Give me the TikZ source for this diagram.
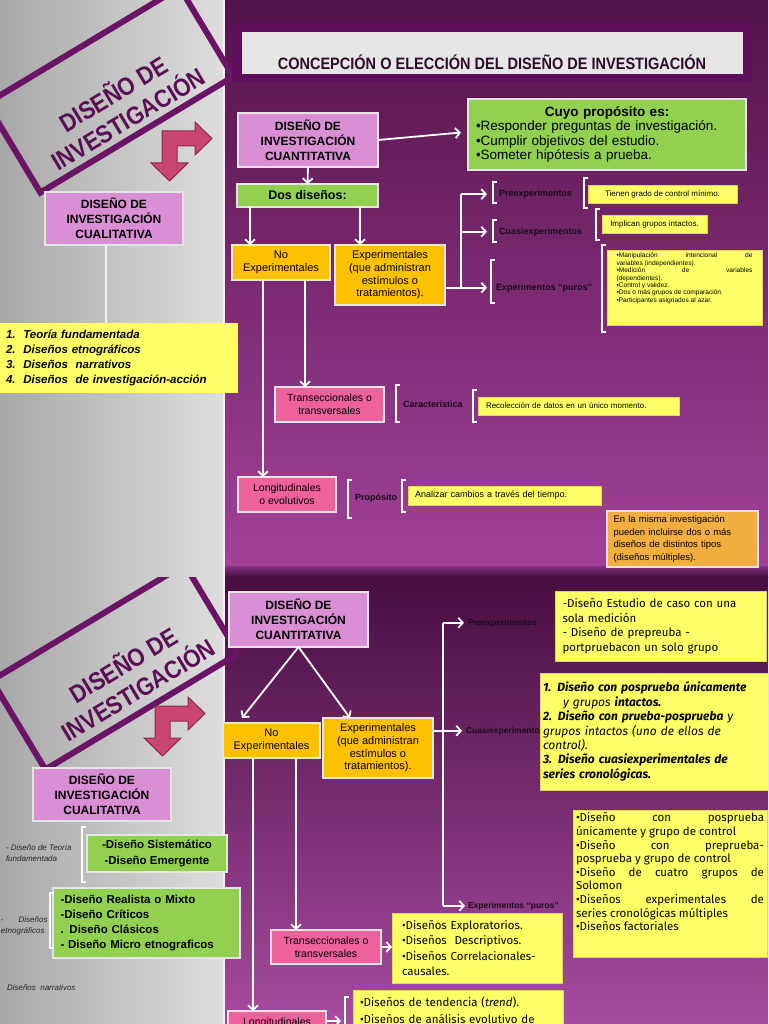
\documentclass[tikz,border=0pt]{standalone}
\usepackage{fontspec}
\setmainfont{Liberation Sans}
\newfontfamily\condf[FakeStretch=0.88]{Liberation Sans}
\newfontfamily\firaf{Fira Sans}
\usetikzlibrary{arrows.meta}
\definecolor{gdark}{HTML}{A8A8A8}
\definecolor{glight}{HTML}{DEDEDE}
\definecolor{ptop}{HTML}{531249}
\definecolor{pbot}{HTML}{A2429A}
\definecolor{pband}{HTML}{470E41}
\definecolor{framec}{HTML}{6A1466}
\definecolor{tiltc}{HTML}{5A0E54}
\definecolor{arrf}{HTML}{C8466F}
\definecolor{arrd}{HTML}{8C2A4D}
\definecolor{pinkq}{HTML}{DA8FD4}
\definecolor{greenc}{HTML}{92D050}
\definecolor{yellowc}{HTML}{FFFF66}
\definecolor{goldc}{HTML}{FFC000}
\definecolor{hotpink}{HTML}{F0629C}
\definecolor{orangec}{HTML}{F3AE40}
\definecolor{bordc}{HTML}{E4E4E4}
\definecolor{tframec}{HTML}{5E0F5C}
\definecolor{tgray}{HTML}{E6E6E6}
\definecolor{ttext}{HTML}{2E0A2B}
\definecolor{lblc}{HTML}{1C0A1A}
\newcommand{\fs}[2]{\fontsize{#1}{#2}\selectfont}
\newcommand{\jl}[1]{\makebox[\hsize][s]{#1}}
\newcommand{\brk}[3]{\draw[brkline] (#1+4,#2) -- (#1,#2) -- (#1,#3) -- (#1+4,#3);}
\tikzset{
  every node/.style={inner sep=0pt, outer sep=0pt},
  box/.style={draw=bordc, line width=1.3pt, anchor=north west, align=center, text=black},
  ybox/.style={box, fill=yellowc, draw=yellowc!85!black, line width=0.6pt},
  wline/.style={draw=white, line width=1.8pt},
  warr/.style={wline, -{Straight Barb[length=4.5pt,width=10pt]}},
  lbl/.style={anchor=base west, font=\bfseries\fs{9}{10}, text=lblc},
  lbltwo/.style={anchor=base west, font=\bfseries\fs{8.5}{10}, text=lblc},
  brkline/.style={draw=white, line width=1.6pt},
  tiltframe/.style={draw=framec, line width=6pt, minimum width=225pt, minimum height=104pt, rotate=31},
  tilttext/.style={rotate=31, font=\condf\bfseries\fs{25}{29}, text=tiltc, align=center},
  bent/.style={fill=arrf, draw=arrd, line width=1pt},
  lefttxt/.style={anchor=north west, font=\itshape\fs{8}{11}, align=left, text=black!85}
}
\begin{document}
\begin{tikzpicture}[x=1pt,y=-1pt]
\useasboundingbox (0,0) rectangle (768,1024);
% ================= TOP SLIDE =================
\begin{scope}
\clip (0,0) rectangle (768,577);
\shade[left color=gdark, right color=glight] (0,0) rectangle (224,577);
\shade[top color=ptop, bottom color=pbot] (224,0) rectangle (768,566);
\shade[top color=pbot!70!pband, bottom color=pband] (224,566) rectangle (768,577);
\draw[draw=white!90!gray, line width=1.4pt] (224,0) -- (224,577);

\node[tiltframe] (tilt1) at (110,90) {};
\node[tilttext] (tilttxt1) at (120,105) {DISEÑO DE\\INVESTIGACIÓN};
\filldraw[bent] (162,131) -- (195,131) -- (195,122) -- (212,138.5) -- (195,155) -- (195,146) -- (177,146) -- (177,163) -- (188,163) -- (169.5,181) -- (151,163) -- (162,163) -- cycle;

\node[box, fill=pinkq, minimum width=138pt, minimum height=53pt, font=\bfseries\fs{12}{15}] (cual) at (45,192) {DISEÑO DE\\INVESTIGACIÓN\\CUALITATIVA};
\node[box, fill=yellowc, draw=none, minimum width=238pt, minimum height=70pt, text width=226pt, align=left, font=\bfseries\itshape\fs{11.5}{14.7}] (list1) at (0,323) {1.\ \ Teoría fundamentada\\2.\ \ Diseños etnográficos\\3.\ \ Diseños\ \ narrativos\\4.\ \ Diseños\ \ de investigación-acción};
\coordinate (cq) at ([xshift=-8pt]cual.south);
\draw[draw=white!92!gray, line width=1.5pt] (cq) -- (cq |- list1.north);

% title
\node[fill=tframec, minimum width=520pt, minimum height=59pt, anchor=north west] (titleframe) at (232,23) {};
\node[fill=tgray, minimum width=501pt, minimum height=42pt, anchor=north west] (titlebar) at (242,32) {};
\node[anchor=base, font=\condf\bfseries\fs{16.5}{18}, text=ttext] (title) at (492,70) {CONCEPCIÓN O ELECCIÓN DEL DISEÑO DE INVESTIGACIÓN};

% boxes
\node[box, fill=pinkq, minimum width=140pt, minimum height=54pt, font=\bfseries\fs{12}{15}] (quant) at (238,113) {DISEÑO DE\\INVESTIGACIÓN\\CUANTITATIVA};
\node[box, fill=greenc, minimum width=278pt, minimum height=71pt, text width=262pt, align=left, font=\fs{13.5}{14.5}] (cuyo) at (468,99) {\makebox[\hsize][c]{\bfseries Cuyo propósito es:}\\•Responder preguntas de investigación.\\•Cumplir objetivos del estudio.\\•Someter hipótesis a prueba.};
\node[box, fill=greenc, minimum width=141pt, minimum height=23pt, font=\bfseries\fs{12.5}{14}] (dos) at (237,184) {Dos diseños:};
\node[box, fill=goldc, minimum width=98pt, minimum height=35pt, font=\fs{11}{12.5}] (noexp) at (232,245) {No\\Experimentales};
\node[box, fill=goldc, minimum width=110pt, minimum height=60pt, font=\fs{11}{12.7}] (exp) at (335,245) {Experimentales\\(que administran\\estímulos o\\tratamientos).};

\node[lbl] (pre) at (499,196.5) {Preexperimentos};
\node[lbl] (cua) at (499,234) {Cuasiexperimentos};
\node[lbl] (pur) at (496,290) {Experimentos “puros”};

\node[ybox, minimum width=149pt, minimum height=18pt, font=\fs{8}{9}] (preY) at (588,185) {Tienen grado de control mínimo.};
\node[ybox, minimum width=105pt, minimum height=18pt, font=\fs{8}{9}] (cuaY) at (602,215) {Implican grupos intactos.};
\node[ybox, minimum width=155pt, minimum height=75pt, font=\fs{6.6}{7.4}] (purY) at (607,250) {\parbox[c][69pt][t]{136pt}{\jl{•Manipulación intencional de}\\variables (independientes).\\\jl{•Medición de variables}\\(dependientes).\\•Control y validez.\\•Dos o más grupos de comparación.\\•Participantes asignados al azar.}};

\node[box, fill=hotpink, line width=2pt, minimum width=109pt, minimum height=35pt, font=\fs{10.5}{13}] (trans) at (275,387) {Transeccionales o\\transversales};
\node[box, fill=hotpink, line width=2pt, minimum width=98pt, minimum height=35pt, font=\fs{10.5}{13}] (long) at (238,477) {Longitudinales\\o evolutivos};
\node[lbl] (car) at (403,407) {Característica};
\node[ybox, minimum width=201pt, minimum height=18pt, text width=185pt, align=left, font=\fs{8}{9}] (carY) at (478,397) {Recolección de datos en un único momento.};
\node[lbl] (prop) at (355,500) {Propósito};
\node[ybox, minimum width=193pt, minimum height=19pt, text width=179pt, align=left, font=\fs{9}{10}] (propY) at (408,486) {Analizar cambios a través del tiempo.};
\node[box, fill=orangec, minimum width=151pt, minimum height=56pt, text width=138pt, align=left, font=\fs{9.5}{12.7}] (multi) at (607,511) {\jl{En la misma investigación}\\\jl{pueden incluirse dos o más}\\\jl{diseños de distintos tipos}\\(diseños múltiples).};

% connectors
\draw[warr] (quant.east) -- ([xshift=-7pt,yshift=2pt]cuyo.west);
\draw[warr] (quant.south) -- (dos.north);
\coordinate (xa) at (250,0);
\coordinate (xb) at (360,0);
\draw[warr] (dos.south -| xa) -- (noexp.north -| xa);
\draw[warr] (dos.south -| xb) -- (exp.north -| xb);
\coordinate (fk) at (461,0);
\draw[wline] (fk |- pre.west) -- (fk |- pur.west);
\draw[wline] (exp.east |- pur.west) -- (fk |- pur.west);
\draw[warr] (fk |- pre.west) -- ([xshift=-12pt]pre.west);
\draw[warr] (fk |- cua.west) -- ([xshift=-12pt]cua.west);
\draw[warr] (fk |- pur.west) -- ([xshift=-9pt]pur.west);
\coordinate (xc) at (263,0);
\coordinate (xd) at (305,0);
\draw[warr] (noexp.south -| xc) -- (long.north -| xc);
\draw[warr] (noexp.south -| xd) -- (trans.north -| xd);

% brackets
\brk{493}{182}{203}
\brk{493}{220}{242}
\brk{491}{260}{303}
\brk{584}{178}{208}
\brk{596}{209}{240}
\brk{602}{245}{332}
\brk{396}{385}{422}
\brk{473}{390}{422}
\brk{348}{480}{518}
\brk{402}{480}{512}
\end{scope}

% ================= BOTTOM SLIDE =================
\begin{scope}
\clip (0,577) rectangle (768,1024);
\shade[left color=gdark, right color=glight] (0,577) rectangle (224,1024);
\shade[top color=pband, bottom color=pbot!95!white] (224,577) rectangle (768,1024);
\draw[draw=white!90!gray, line width=1.4pt] (224,577) -- (224,1024);

\node[tiltframe] (tilt2) at (115,667) {};
\node[tilttext] (tilttxt2) at (130,676) {DISEÑO DE\\INVESTIGACIÓN};
\begin{scope}[shift={(-7,575)}]
\filldraw[bent] (162,131) -- (195,131) -- (195,122) -- (212,138.5) -- (195,155) -- (195,146) -- (177,146) -- (177,163) -- (188,163) -- (169.5,181) -- (151,163) -- (162,163) -- cycle;
\end{scope}

\node[box, fill=pinkq, minimum width=138pt, minimum height=53pt, font=\bfseries\fs{12}{15}] (cual2) at (33,768) {DISEÑO DE\\INVESTIGACIÓN\\CUALITATIVA};
\node[lefttxt] (teo) at (6,845) {- Diseño de Teoría\\fundamentada};
\node[lefttxt] (etno) at (1,917) {-\hspace{15pt}Diseños\\etnográficos};
\node[anchor=base west, font=\itshape\fs{8}{10}, text=black!85] (narr) at (7,990) {Diseños\ \ narrativos};
\node[box, fill=greenc, minimum width=140pt, minimum height=37pt, font=\bfseries\fs{11.5}{16}] (sist) at (87,835) {-Diseño Sistemático\\-Diseño Emergente};
\node[box, fill=greenc, minimum width=187pt, minimum height=70pt, text width=172pt, align=left, font=\bfseries\fs{11.5}{15}] (real) at (53,888) {-Diseño Realista o Mixto\\-Diseño Críticos\\. Diseño Clásicos\\- Diseño Micro etnograficos};
\brk{82}{827}{882}
\brk{50}{893}{948}

\node[box, fill=pinkq, minimum width=139pt, minimum height=55pt, font=\bfseries\fs{12}{15}] (quant2) at (229,592) {DISEÑO DE\\INVESTIGACIÓN\\CUANTITATIVA};
\node[box, fill=goldc, minimum width=97pt, minimum height=35pt, font=\fs{11}{12.5}] (noexp2) at (223,723) {No\\Experimentales};
\node[box, fill=goldc, minimum width=110pt, minimum height=60pt, font=\fs{11}{12.7}] (exp2) at (323,718) {Experimentales\\(que administran\\estímulos o\\tratamientos).};

\node[lbltwo] (pre2) at (468,625) {Preexperimentos};
\node[lbltwo] (cua2) at (466,733) {Cuasiexperimentos};
\node[lbltwo] (pur2) at (468,908) {Experimentos “puros”};

\node[ybox, minimum width=211pt, minimum height=70pt, text width=196pt, align=left, font=\firaf\fs{11.5}{14.5}] (preY2) at (555,591) {-Diseño Estudio de caso con una\\sola medición\\- Diseño de prepreuba -\\portpruebacon un solo grupo};
\node[ybox, minimum width=228pt, minimum height=117pt, text width=222pt, align=left, font=\firaf\fs{12}{14.4}] (cuaY2) at (540,673) {{\bfseries\itshape 1. Diseño con posprueba únicamente}\\\hspace*{20pt}{\itshape y grupos {\bfseries intactos.}}\\{\bfseries\itshape 2. Diseño con prueba-posprueba}{\itshape\ y}\\{\itshape grupos intactos (uno de ellos de}\\{\itshape control).}\\{\bfseries\itshape 3. Diseño cuasiexperimentales de}\\{\bfseries\itshape series cronológicas.}};
\node[ybox, minimum width=194pt, minimum height=147pt, font=\firaf\fs{11.5}{13.6}] (purY2) at (573,810) {\parbox[c][141pt][t]{188pt}{\jl{•Diseño con posprueba}\\únicamente y grupo de control\\\jl{•Diseño con preprueba-}\\posprueba y grupo de control\\\jl{•Diseño de cuatro grupos de}\\Solomon\\\jl{•Diseños experimentales de}\\series cronológicas múltiples\\•Diseños factoriales}};

\node[box, fill=hotpink, line width=2pt, minimum width=110pt, minimum height=34pt, font=\fs{10.5}{13}] (trans2) at (271,930) {Transeccionales o\\transversales};
\node[ybox, minimum width=170pt, minimum height=70pt, text width=150pt, align=left, font=\firaf\fs{11.5}{15.2}] (tY2) at (392,913) {•Diseños Exploratorios.\\•Diseños\ \ Descriptivos.\\\jl{•Diseños Correlacionales-}\\causales.};
\node[box, fill=hotpink, line width=2pt, minimum width=98pt, minimum height=34pt, font=\fs{10.5}{13}] (long2) at (228,1011) {Longitudinales\\o evolutivos};
\node[ybox, minimum width=210pt, minimum height=40pt, text width=196pt, align=left, font=\firaf\fs{11.5}{17}] (lY2) at (353,990) {•Diseños de tendencia (\textit{trend}).\\•Diseños de análisis evolutivo de};
\brk{345}{997}{1045}

% connectors bottom
\draw[warr] (quant2.south) -- ([xshift=19pt,yshift=5pt]noexp2.north west);
\draw[warr] (quant2.south) -- ([xshift=-28pt]exp2.north);
\coordinate (fk2) at (443,0);
\draw[wline] (fk2 |- pre2.west) -- (fk2 |- pur2.west);
\draw[warr] (fk2 |- pre2.west) -- ([xshift=-4pt]pre2.west);
\draw[warr] (exp2.east |- cua2.west) -- ([xshift=-4pt]cua2.west);
\draw[warr] (fk2 |- pur2.west) -- ([xshift=-3pt]pur2.west);
\coordinate (xe) at (253,0);
\coordinate (xf) at (296,0);
\draw[warr] (noexp2.south -| xe) -- (long2.north -| xe);
\draw[warr] (noexp2.south -| xf) -- (trans2.north -| xf);
\draw[warr] (trans2.east) -- (trans2.east -| tY2.west);
\draw[warr] ([yshift=7pt]long2.east) -- ([yshift=7pt,xshift=15pt]long2.east);
\end{scope}
\end{tikzpicture}
\end{document}
